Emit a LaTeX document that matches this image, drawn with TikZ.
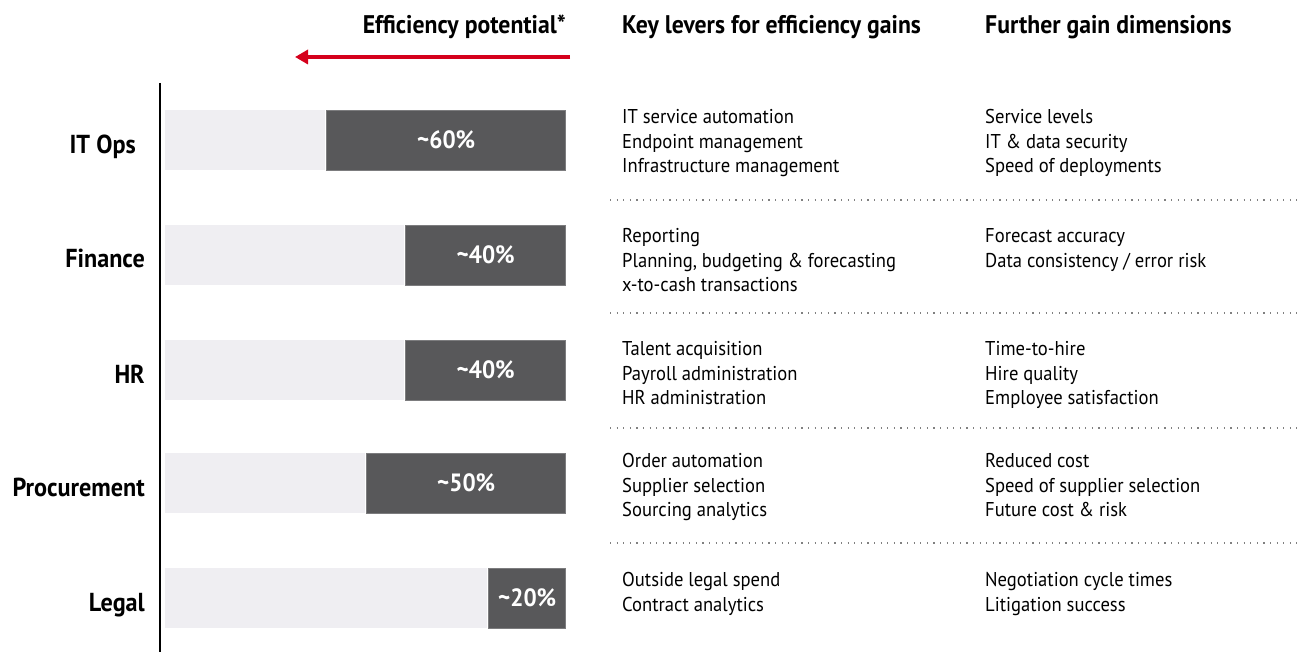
\documentclass[tikz,border=0pt]{standalone}
\usepackage{fontspec}
\setmainfont{PT Sans}[FakeStretch=0.93]
\usetikzlibrary{arrows.meta}

\definecolor{barlight}{HTML}{EFEEF2}
\definecolor{bardark}{HTML}{58585A}
\definecolor{baredge}{HTML}{7C7C7E}
\definecolor{arrowred}{HTML}{D5001C}

\tikzset{
    area/.style={font=\bfseries\fontsize{26}{30}\selectfont, anchor=base east, inner sep=0pt},
    head/.style={font=\bfseries\fontsize{25.5}{30}\selectfont, inner sep=0pt},
    base/.style={fill=barlight, minimum height=60pt, anchor=west, inner sep=0pt},
    gain/.style={fill=bardark, draw=baredge, line width=0.6pt, text=white, font=\bfseries\fontsize{25}{28}\selectfont, minimum height=60pt, anchor=east, inner sep=0pt},
    items/.style={align=left, anchor=north west, inner sep=0pt, font=\fontsize{20}{24.5}\selectfont},
    sep/.style={gray, line width=1.2pt, dash pattern=on 1.2pt off 5.4pt}
}

\begin{document}
\begin{tikzpicture}[x=1pt, y=-1pt]
        \useasboundingbox (0,0) rectangle (1301,652);

        \node[head, anchor=base east] (potential) at (566,34) {Efficiency potential*};
        \node[head, anchor=base west] (levers) at (622,34) {Key levers for efficiency gains};
        \node[head, anchor=base west] (dimensions) at (985,34) {Further gain dimensions};

        \coordinate (arrow-tail) at (570,57);
        \coordinate (arrow-head) at (295,57);
        \draw[arrowred, line width=4.5pt, -{Triangle[length=13pt, width=14pt]}] (arrow-tail) to (arrow-head);

        \coordinate (axis-top) at (160,83);
        \coordinate (axis-bottom) at (160,652);
        \draw[line width=2pt] (axis-top) to (axis-bottom);

        \node[area] (itops) at (136,154) {IT Ops};
        \node[area] (finance) at (145,268) {Finance};
        \node[area] (hr) at (145,383) {HR};
        \node[area] (procurement) at (145,496) {Procurement};
        \node[area] (legal) at (145,611) {Legal};

        \node[base, minimum width=160pt] (itops-base) at (165,140) {};
        \node[gain, minimum width=239pt] (itops-gain) at (566,140) {\textasciitilde60\%};
        \node[base, minimum width=239pt] (finance-base) at (165,255) {};
        \node[gain, minimum width=160pt] (finance-gain) at (566,255) {\textasciitilde40\%};
        \node[base, minimum width=239pt] (hr-base) at (165,370) {};
        \node[gain, minimum width=160pt] (hr-gain) at (566,370) {\textasciitilde40\%};
        \node[base, minimum width=200pt] (procurement-base) at (165,483) {};
        \node[gain, minimum width=199pt] (procurement-gain) at (566,483) {\textasciitilde50\%};
        \node[base, minimum width=322pt] (legal-base) at (165,598) {};
        \node[gain, minimum width=77pt] (legal-gain) at (566,598) {\textasciitilde20\%};

        \node[items] (itops-levers) at (622,109.5) {IT service automation\\Endpoint management\\Infrastructure management};
        \node[items] (itops-dims) at (985,109.5) {Service levels\\IT \& data security\\Speed of deployments};
        \node[items] (finance-levers) at (622,228.5) {Reporting\\Planning, budgeting \& forecasting\\x-to-cash transactions};
        \node[items] (finance-dims) at (985,228.5) {Forecast accuracy\\Data consistency / error risk};
        \node[items] (hr-levers) at (622,341.5) {Talent acquisition\\Payroll administration\\HR administration};
        \node[items] (hr-dims) at (985,341.5) {Time-to-hire\\Hire quality\\Employee satisfaction};
        \node[items] (procurement-levers) at (622,453.5) {Order automation\\Supplier selection\\Sourcing analytics};
        \node[items] (procurement-dims) at (985,453.5) {Reduced cost\\Speed of supplier selection\\Future cost \& risk};
        \node[items] (legal-levers) at (622,572.5) {Outside legal spend\\Contract analytics};
        \node[items] (legal-dims) at (985,572.5) {Negotiation cycle times\\Litigation success};

        \draw[sep] (610,200) -- (1297,200)
            (610,313) -- (1297,313)
            (610,428) -- (1297,428)
            (610,543) -- (1297,543);
    \end{tikzpicture}
\end{document}
